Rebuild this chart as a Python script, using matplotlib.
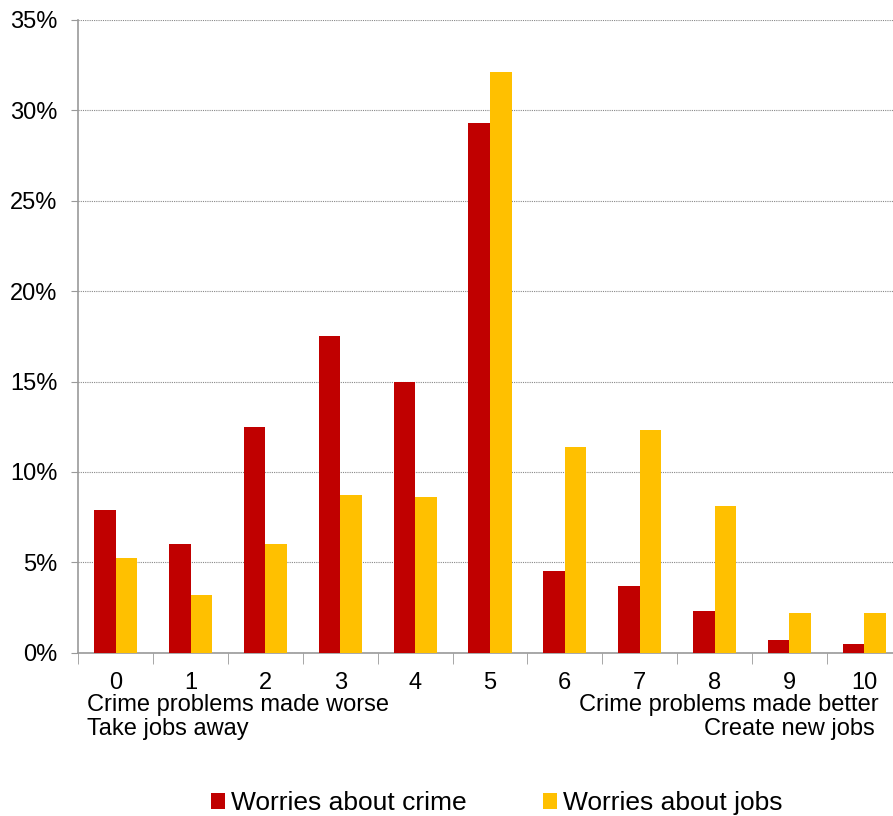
import numpy as np
import matplotlib
matplotlib.use("Agg")
import matplotlib.pyplot as plt
from matplotlib.ticker import FuncFormatter, FixedLocator

plt.rcParams["font.family"] = ["Liberation Sans", "DejaVu Sans"]

categories = ["0", "1", "2", "3", "4", "5", "6", "7", "8", "9", "10"]
crime = [7.9, 6.0, 12.5, 17.5, 15.0, 29.3, 4.5, 3.7, 2.3, 0.7, 0.5]
jobs = [5.25, 3.2, 6.0, 8.7, 8.6, 32.1, 11.4, 12.3, 8.1, 2.2, 2.2]
series_names = ["Worries about crime", "Worries about jobs"]
colors = ["#C00000", "#FFC000"]

fig = plt.figure(figsize=(8.93, 8.16), dpi=100)
# chart area runs a little past the right edge of the picture, as in the source
ax = fig.add_axes([0.0877, 0.2001, 0.922, 0.7754])

x = np.arange(len(categories))
w = 0.288
ax.bar(x - w / 2, crime, w, color=colors[0], label=series_names[0], zorder=3)
ax.bar(x + w / 2, jobs, w, color=colors[1], label=series_names[1], zorder=3)

ax.set_xlim(-0.5, len(categories) - 0.5)
ax.set_ylim(0, 35)
ax.set_yticks(np.arange(0, 36, 5))
ax.yaxis.set_major_formatter(FuncFormatter(lambda v, p: "%d%%" % v))
ax.set_xticks(x)
ax.set_xticklabels(categories)
ax.xaxis.set_minor_locator(FixedLocator(np.arange(-0.5, len(categories), 1.0)))
ax.tick_params(axis="x", which="major", length=0, pad=14, labelsize=17)
ax.tick_params(axis="x", which="minor", length=8, color="#999999", direction="out")
ax.tick_params(axis="y", length=5, color="#999999", labelsize=17, pad=10)

ax.grid(axis="y", color="#888888", linestyle=(0, (1, 1)), linewidth=0.8, zorder=0)
for side in ["top", "right"]:
    ax.spines[side].set_visible(False)
for side in ["left", "bottom"]:
    ax.spines[side].set_color("#999999")
    ax.spines[side].set_linewidth(1.2)

fig.text(0.097, 1 - 705 / 816, "Crime problems made worse", fontsize=17, va="center", ha="left")
fig.text(0.097, 1 - 729 / 816, "Take jobs away", fontsize=17, va="center", ha="left")
fig.text(879 / 893, 1 - 705 / 816, "Crime problems made better", fontsize=17, va="center", ha="right")
fig.text(875 / 893, 1 - 729 / 816, "Create new jobs", fontsize=17, va="center", ha="right")

fig.legend(loc="center", bbox_to_anchor=(0.556, 0.016), ncol=2, frameon=False,
           fontsize=19, handlelength=0.55, handleheight=0.55, handletextpad=0.2,
           columnspacing=2.9, borderpad=0)

fig.savefig("out.png", dpi=100)
